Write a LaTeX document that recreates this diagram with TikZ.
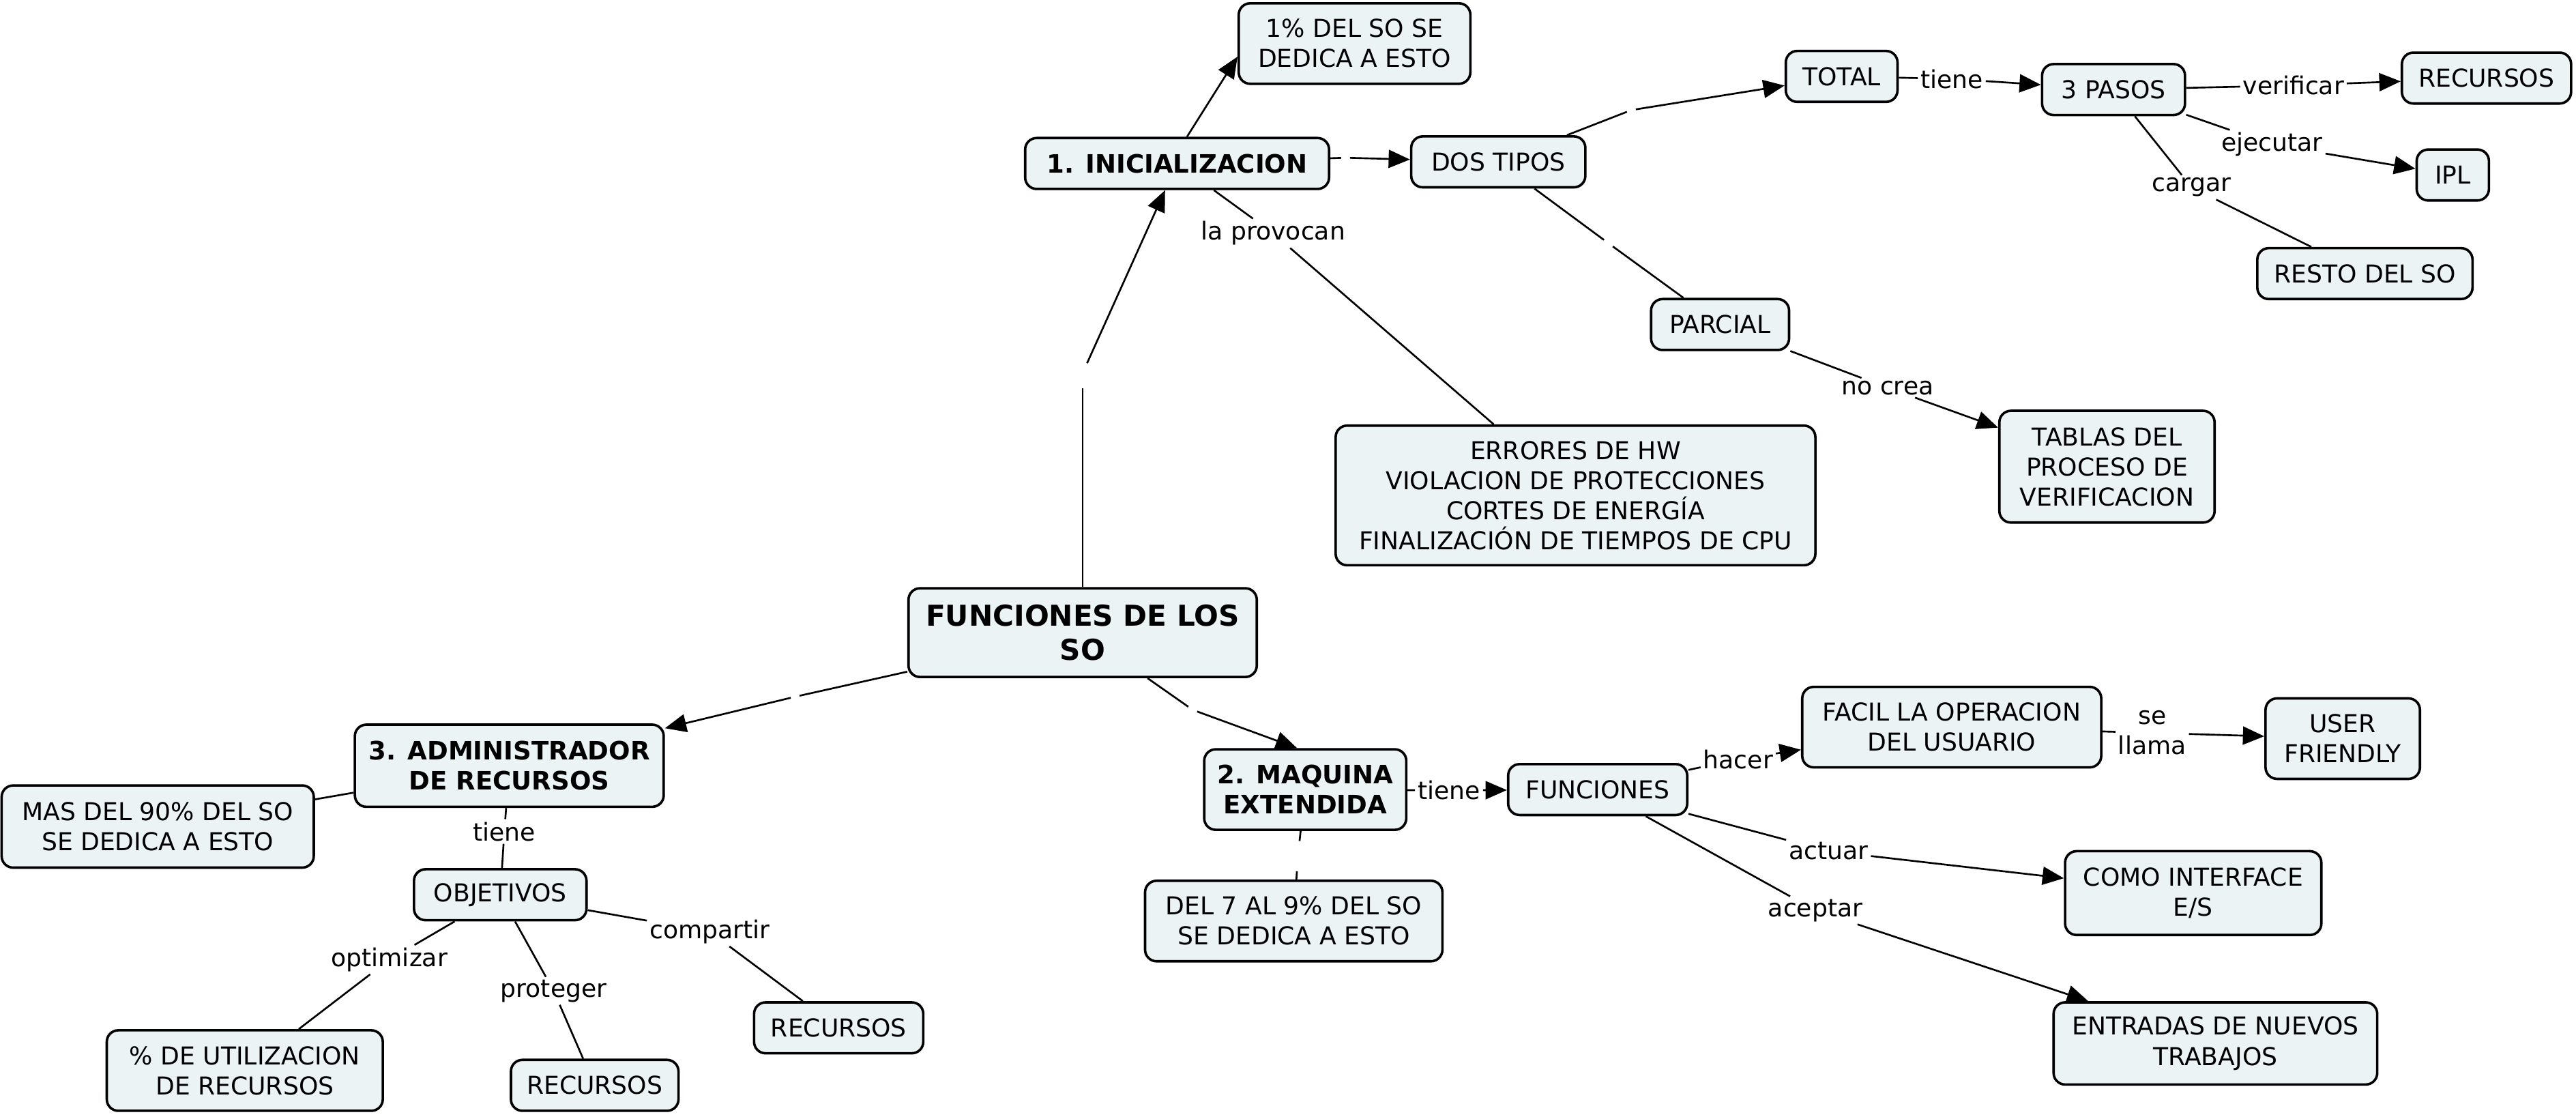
\documentclass[tikz,border=0pt]{standalone}
\usepackage{fontspec}
\setmainfont{DejaVu Sans}
\usetikzlibrary{arrows.meta}
\definecolor{boxfill}{RGB}{235,243,245}
\begin{document}
\begin{tikzpicture}[x=1pt,y=-1pt,
  box/.style={draw, line width=1.5pt, rounded corners=7pt, fill=boxfill, align=center, inner sep=0pt, font=\fontsize{15}{18.3}\selectfont},
  bbox/.style={box, font=\fontsize{15.4}{18.3}\selectfont\bfseries},
  lbl/.style={inner sep=1.5pt, align=center, font=\fontsize{15}{18.3}\selectfont},
  gapn/.style={inner sep=0pt, minimum width=5pt, minimum height=18pt},
  conn/.style={line width=1.1pt},
  arr/.style={conn, -{Triangle[length=13pt,width=11pt]}},
]
\useasboundingbox (0,0) rectangle (1568,679.4);

% concept boxes
\node[box, minimum width=141pt, minimum height=49pt] (pct1) at (824.5,26.5) {1\% DEL SO SE\\DEDICA A ESTO};
\node[bbox, minimum width=185pt, minimum height=31pt] (inic) at (716.5,99.5) {1. INICIALIZACION};
\node[box, minimum width=106pt, minimum height=31pt] (dos) at (912,98.5) {DOS TIPOS};
\node[box, minimum width=68pt, minimum height=31pt] (total) at (1121,46.5) {TOTAL};
\node[box, minimum width=87pt, minimum height=31pt] (pasos) at (1286.5,54.5) {3 PASOS};
\node[box, minimum width=103pt, minimum height=31pt] (rec1) at (1513.5,47.5) {RECURSOS};
\node[box, minimum width=44pt, minimum height=31pt] (ipl) at (1493,106.5) {IPL};
\node[box, minimum width=131pt, minimum height=31pt] (resto) at (1439.5,166.5) {RESTO DEL SO};
\node[box, minimum width=84pt, minimum height=31pt] (parcial) at (1047,197.5) {PARCIAL};
\node[box, minimum width=131pt, minimum height=68pt] (tablas) at (1282.5,284) {TABLAS DEL\\PROCESO DE\\VERIFICACION};
\node[box, minimum width=292pt, minimum height=85pt] (err) at (959,301.5) {ERRORES DE HW\\VIOLACION DE PROTECCIONES\\CORTES DE ENERGÍA\\FINALIZACIÓN DE TIEMPOS DE CPU};
\node[box, font=\fontsize{17.5}{21}\selectfont\bfseries, minimum width=212pt, minimum height=54pt] (func) at (659,385) {FUNCIONES DE LOS\\SO};
\node[bbox, minimum width=188pt, minimum height=50pt] (admin) at (310,466) {3. ADMINISTRADOR\\DE RECURSOS};
\node[box, minimum width=190pt, minimum height=50pt] (mas) at (96,503) {MAS DEL 90\% DEL SO\\SE DEDICA A ESTO};
\node[box, minimum width=105pt, minimum height=31pt] (obj) at (304.5,544.5) {OBJETIVOS};
\node[box, minimum width=168pt, minimum height=49pt] (util) at (149,651.5) {\% DE UTILIZACION\\DE RECURSOS};
\node[box, minimum width=102pt, minimum height=31pt] (rec2) at (362,660.5) {RECURSOS};
\node[box, minimum width=103pt, minimum height=31pt] (rec3) at (510.5,625.5) {RECURSOS};
\node[bbox, minimum width=123pt, minimum height=49pt] (maq) at (794.5,480.5) {2. MAQUINA\\EXTENDIDA};
\node[box, minimum width=181pt, minimum height=49pt] (del7) at (787.5,560.5) {DEL 7 AL 9\% DEL SO\\SE DEDICA A ESTO};
\node[box, minimum width=109pt, minimum height=31pt] (funcs) at (972.5,480.5) {FUNCIONES};
\node[box, minimum width=182pt, minimum height=49pt] (facil) at (1188,442.5) {FACIL LA OPERACION\\DEL USUARIO};
\node[box, minimum width=94pt, minimum height=49pt] (user) at (1426,449.5) {USER\\FRIENDLY};
\node[box, minimum width=156pt, minimum height=51pt] (como) at (1335,543.5) {COMO INTERFACE\\E/S};
\node[box, minimum width=197pt, minimum height=50pt] (entr) at (1348.5,635) {ENTRADAS DE NUEVOS\\TRABAJOS};

% linking phrases
\node[lbl] (lprov) at (775,142) {la provocan};
\node[lbl] (ltiene1) at (1188,48) {tiene};
\node[lbl] (lverif) at (1396,52) {verificar};
\node[lbl] (lejec) at (1383,88) {ejecutar};
\node[lbl] (lcarg) at (1334,114) {cargar};
\node[lbl] (lnocrea) at (1149,236) {no crea};
\node[lbl] (ltiene2) at (882,481) {tiene};
\node[lbl] (lhacer) at (1058,462) {hacer};
\node[lbl] (lsellama) at (1310,446) {se\\llama};
\node[lbl] (lactuar) at (1113,518) {actuar};
\node[lbl] (lacept) at (1105,554) {aceptar};
\node[lbl] (ltiene3) at (307,506) {tiene};
\node[lbl] (loptim) at (237,584) {optimizar};
\node[lbl] (lprot) at (337,603) {proteger};
\node[lbl] (lcomp) at (432,567) {compartir};

% empty linking phrases (gaps)
\node[gapn] (g1) at (659,227) {};
\node[gapn] (g2) at (484,424) {};
\node[gapn] (g3) at (726,432) {};
\node[gapn] (g4) at (819,96) {};
\node[gapn] (g5) at (993,67) {};
\node[gapn] (g6) at (979,148) {};
\node[gapn] (g7) at (790,521) {};

% connectors
\draw[conn] (func) -- (g1); \draw[arr] (g1) -- (inic);
\draw[conn] (func) -- (g2); \draw[arr] (g2) -- (admin);
\draw[conn] (func) -- (g3); \draw[arr] (g3) -- ([xshift=-5pt]maq.north);
\draw[conn] (inic) -- (g4); \draw[arr] (g4) -- (dos);
\draw[conn] (dos) -- (g5); \draw[arr] (g5) -- (total);
\draw[conn] (dos) -- (g6); \draw[conn] (g6) -- (parcial);
\draw[conn] (inic) -- (lprov); \draw[conn] (lprov) -- (err);
\draw[arr] ([xshift=6pt]inic.north) -- ([yshift=-8pt]pct1.west);
\draw[conn] (total) -- (ltiene1); \draw[arr] (ltiene1) -- (pasos);
\draw[conn] (pasos) -- (lverif); \draw[arr] (lverif) -- (rec1);
\draw[conn] (pasos) -- (lejec); \draw[arr] (lejec) -- (ipl);
\draw[conn] (pasos) -- (lcarg); \draw[conn] (lcarg) -- (resto);
\draw[conn] (parcial) -- (lnocrea); \draw[arr] (lnocrea) -- (tablas);
\draw[conn] (maq) -- (ltiene2); \draw[arr] (ltiene2) -- (funcs);
\draw[conn] (funcs) -- (lhacer); \draw[arr] (lhacer) -- (facil);
\draw[conn] (facil) -- (lsellama); \draw[arr] (lsellama) -- (user);
\draw[conn] (funcs) -- (lactuar); \draw[arr] (lactuar) -- (como);
\draw[conn] (funcs) -- (lacept); \draw[arr] (lacept) -- (entr);
\draw[conn] (admin) -- (mas);
\draw[conn] (admin) -- (ltiene3); \draw[conn] (ltiene3) -- (obj);
\draw[conn] (obj) -- (loptim); \draw[conn] (loptim) -- (util);
\draw[conn] (obj) -- (lprot); \draw[conn] (lprot) -- (rec2);
\draw[conn] (obj) -- (lcomp); \draw[conn] (lcomp) -- (rec3);
\draw[conn] (maq) -- (g7); \draw[conn] (g7) -- (del7);
\end{tikzpicture}
\end{document}
